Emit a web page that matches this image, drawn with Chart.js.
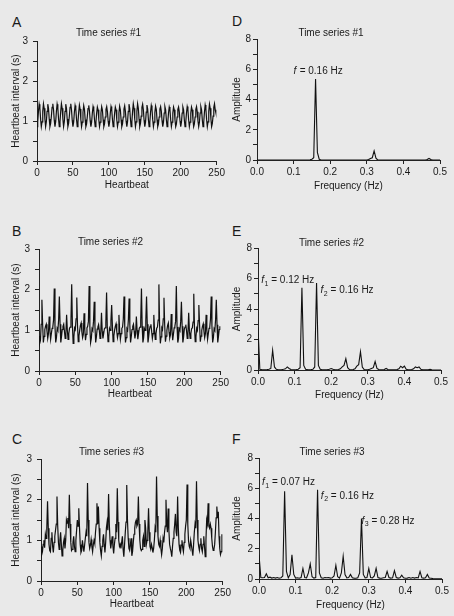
<!DOCTYPE html>
<html>
<head>
<meta charset="utf-8">
<script src="https://cdn.jsdelivr.net/npm/chart.js@4.4.1/dist/chart.umd.min.js"></script>
<style>
  html, body { margin: 0; padding: 0; background: #e9e9e9; }
  #page { position: relative; width: 454px; height: 616px; background: #e9e9e9; overflow: hidden;
          font-family: "Liberation Sans", Arial, sans-serif; color: #1a1a1a; }
  .wrap { position: absolute; }
  .letter { position: absolute; font-size: 14px; line-height: 14px; }
</style>
</head>
<body>
<div id="page">
  <div class="letter" style="left:12px;top:15px">A</div>
  <div class="letter" style="left:12px;top:224px">B</div>
  <div class="letter" style="left:12px;top:432px">C</div>
  <div class="letter" style="left:232px;top:14px">D</div>
  <div class="letter" style="left:232px;top:224px">E</div>
  <div class="letter" style="left:232px;top:432px">F</div>
  <div class="wrap" id="wrapA"><canvas id="cA"></canvas></div>
  <div class="wrap" id="wrapB"><canvas id="cB"></canvas></div>
  <div class="wrap" id="wrapC"><canvas id="cC"></canvas></div>
  <div class="wrap" id="wrapD"><canvas id="cD"></canvas></div>
  <div class="wrap" id="wrapE"><canvas id="cE"></canvas></div>
  <div class="wrap" id="wrapF"><canvas id="cF"></canvas></div>
</div>
<script>
// ---- data ----
const panelTitles = ["Time series #1", "Time series #2", "Time series #3"];
const intervalTickLabels = [0, 1, 2, 3];
const amplitudeTickLabels = [0, 2, 4, 6, 8];
const beatTickLabels = [0, 50, 100, 150, 200, 250];
const freqTickLabels = ["0.0", "0.1", "0.2", "0.3", "0.4", "0.5"];
const freqStep = 0.005; // spectrum bins

// heartbeat interval (s), one value per beat 0..249
const beatIntervals1 = [
  0.86,0.98,1.24,1.42,1.32,1.05,0.86,0.98,1.24,1.43,1.32,1.05,0.86,0.98,1.24,1.42,1.32,1.05,0.86,0.94,1.12,1.34,1.43,1.28,1.02,
  0.86,0.98,1.24,1.42,1.32,1.05,0.86,0.98,1.24,1.43,1.32,1.05,0.86,0.98,1.24,1.42,1.32,1.05,0.86,0.94,1.12,1.34,1.43,1.28,1.02,
  0.86,0.97,1.22,1.39,1.3,1.04,0.86,0.97,1.22,1.4,1.3,1.04,0.86,0.97,1.22,1.39,1.3,1.04,0.86,0.93,1.11,1.31,1.39,1.25,1.01,
  0.86,0.97,1.2,1.36,1.28,1.03,0.86,0.97,1.2,1.35,1.28,1.03,0.86,0.97,1.2,1.36,1.28,1.03,0.86,0.93,1.1,1.29,1.36,1.23,1.0,
  0.86,0.97,1.2,1.36,1.28,1.03,0.86,0.97,1.2,1.35,1.28,1.03,0.86,0.97,1.2,1.37,1.28,1.03,0.86,0.93,1.1,1.3,1.38,1.24,1.0,
  0.86,0.98,1.24,1.42,1.32,1.05,0.86,0.98,1.24,1.43,1.32,1.05,0.86,0.98,1.24,1.43,1.32,1.05,0.86,0.94,1.12,1.34,1.42,1.28,1.02,
  0.86,0.97,1.22,1.4,1.3,1.04,0.86,0.97,1.22,1.39,1.3,1.04,0.86,0.97,1.21,1.37,1.29,1.04,0.86,0.93,1.1,1.3,1.36,1.24,1.01,
  0.86,0.97,1.2,1.36,1.28,1.03,0.86,0.97,1.2,1.35,1.28,1.03,0.86,0.97,1.2,1.35,1.28,1.03,0.86,0.93,1.1,1.29,1.35,1.23,1.0,
  0.86,0.97,1.2,1.35,1.28,1.03,0.86,0.97,1.2,1.36,1.28,1.03,0.86,0.97,1.2,1.35,1.28,1.03,0.86,0.93,1.1,1.29,1.36,1.23,1.0,
  0.86,0.97,1.2,1.36,1.28,1.03,0.86,0.97,1.22,1.4,1.3,1.04,0.86,0.98,1.24,1.42,1.32,1.05,0.86,0.94,1.12,1.34,1.43,1.28,1.2
];
const beatIntervals2 = [
  0.86,0.68,0.75,1.15,1.75,1.15,0.7,0.85,1.02,1.1,1.15,0.98,0.8,0.92,1.34,1.0,0.78,0.92,1.05,1.08,1.25,
  2.03,1.1,0.7,0.82,1.05,1.0,1.25,1.83,1.15,0.7,0.85,1.02,1.1,1.15,0.98,0.8,0.92,1.38,1.0,0.78,0.92,1.05,1.08,1.25,
  2.13,1.12,0.68,0.84,1.06,1.02,1.28,1.81,1.12,0.72,0.86,1.0,1.12,1.18,0.96,0.82,0.9,1.42,1.02,0.76,0.9,1.06,1.1,1.22,
  2.09,1.08,0.7,0.8,1.04,1.0,1.22,1.7,1.1,0.7,0.84,1.03,1.08,1.14,1.0,0.8,0.94,1.43,0.98,0.8,0.92,1.04,1.06,1.2,
  1.93,1.06,0.72,0.84,1.05,1.0,1.24,1.62,1.12,0.72,0.86,1.0,1.1,1.16,0.98,0.82,0.92,1.38,1.0,0.78,0.92,1.05,1.08,1.28,
  1.83,1.1,0.7,0.82,1.04,1.0,1.26,1.78,1.14,0.7,0.85,1.02,1.1,1.15,0.98,0.8,0.92,1.34,1.0,0.78,0.92,1.05,1.08,1.25,
  2.03,1.1,0.7,0.82,1.05,1.0,1.25,1.83,1.15,0.7,0.85,1.02,1.1,1.15,0.98,0.8,0.92,1.38,1.0,0.78,0.92,1.05,1.08,1.25,
  2.13,1.12,0.68,0.84,1.06,1.02,1.28,1.8,1.12,0.72,0.86,1.0,1.12,1.18,0.96,0.82,0.9,1.4,1.02,0.76,0.9,1.06,1.1,1.22,
  2.09,1.08,0.7,0.8,1.04,1.0,1.22,1.7,1.1,0.7,0.84,1.03,1.08,1.14,1.0,0.8,0.94,1.43,0.98,0.8,0.92,1.04,1.06,1.2,
  1.9,1.06,0.72,0.84,1.05,1.0,1.24,1.62,1.12,0.72,0.86,1.0,1.1,1.16,0.98,0.82,0.92,1.38,1.0,0.78,0.92,1.05,1.08,1.28,
  1.83,1.1,0.7,0.82,1.04,1.0,1.26,1.75,1.14,0.7,0.85,1.02,1.1
];
const beatIntervals3 = [
  0.85,0.65,0.72,0.9,1.0,0.82,1.15,1.05,1.3,
  1.96,1.3,0.9,0.75,0.72,1.05,1.2,0.85,0.7,0.95,1.1,1.25,1.4,
  2.08,1.35,0.95,0.78,1.0,1.2,0.9,0.62,0.75,0.95,1.05,0.8,1.0,1.5,1.42,1.55,1.3,
  2.12,1.4,0.95,0.75,0.78,0.95,1.1,0.85,0.72,1.0,1.25,1.5,1.35,
  1.79,1.3,0.9,0.7,0.75,1.0,0.85,0.72,0.88,1.05,1.2,1.1,
  2.41,1.5,0.95,0.8,0.88,1.02,0.85,0.72,0.9,1.0,0.92,1.2,1.4,
  1.91,1.4,1.83,1.3,0.95,0.75,0.62,0.85,1.0,1.15,0.9,0.7,0.95,1.3,1.45,1.25,
  2.14,1.4,1.0,0.8,0.95,1.1,0.85,0.68,0.9,1.05,1.4,1.2,
  2.28,1.45,1.0,0.85,0.9,0.8,0.95,1.1,0.78,0.6,0.9,1.2,1.45,
  2.36,1.5,1.05,0.8,0.75,0.9,1.05,0.62,0.72,0.95,1.15,1.3,1.45,1.5,1.35,1.4,
  2.08,1.4,1.0,0.8,0.75,0.78,1.0,1.1,0.85,1.5,1.3,0.9,1.0,1.2,
  1.79,1.2,0.85,0.78,0.9,0.82,0.7,0.8,1.0,1.3,1.2,
  2.57,1.6,1.1,0.9,0.85,1.0,0.8,0.65,0.8,1.05,0.95,1.2,1.35,
  2.0,1.4,1.2,1.78,1.25,0.9,0.8,0.72,0.6,0.85,1.05,1.2,1.4,1.65,1.2,1.1,
  2.08,1.3,0.9,0.75,0.7,0.88,1.0,0.82,0.72,0.95,1.15,1.35,1.5,
  2.37,1.4,1.0,0.85,0.8,1.0,0.88,0.75,0.62,0.9,1.2,1.4,1.3,
  2.45,1.5,1.0,0.85,0.75,0.9,1.05,0.8,0.72,0.9,1.1,0.85,0.6,1.0,1.5,1.4,
  1.91,1.35,1.3,1.4,1.3,1.05,0.85,0.75,0.78,0.9,1.2,1.55,
  1.83,1.55,1.7,1.1,0.8,0.65,0.72,1.15
];

// spectral amplitude, bins 0, 0.005, ... 0.5 Hz
const spectrum1 = [
  0,0,0,0,0,0,0,0,0,0,
  0,0,0,0,0,0,0,0,0,0,
  0,0,0,0,0,0,0,0,0,0.02,
  0.05,0.15,5.35,0.5,0.05,0,0,0,0,0,
  0,0,0,0,0,0,0,0,0,0,
  0,0,0,0,0,0,0,0,0,0,
  0,0.03,0.1,0.15,0.6,0.12,0,0,0,0,
  0,0,0,0,0,0,0,0,0,0,
  0,0,0,0,0,0,0,0,0,0,
  0,0,0,0.03,0.1,0.03,0,0,0,0,
  0
];
const spectrum2 = [
  2.8,0.05,0.03,0.02,0.02,0.03,0.05,0.1,1.3,0.2,
  0.05,0.02,0.02,0.03,0.05,0.08,0.2,0.1,0.03,0.02,
  0.02,0.03,0.05,0.15,5.4,0.3,0.05,0.03,0.02,0.03,
  0.05,0.2,5.7,0.3,0.05,0.02,0.02,0.02,0.03,0.05,
  0.1,0.05,0.02,0.02,0.03,0.08,0.2,0.3,0.75,0.15,
  0.03,0.02,0.03,0.08,0.25,0.35,1.2,0.2,0.03,0.02,
  0.02,0.05,0.1,0.15,0.55,0.1,0.03,0.02,0.02,0.03,
  0.1,0.03,0.02,0.02,0.02,0.02,0.03,0.08,0.25,0.15,
  0.25,0.05,0.02,0.02,0.03,0.08,0.2,0.15,0.2,0.05,
  0.02,0.02,0.02,0.02,0.05,0.02,0,0,0,0,
  0
];
const spectrum3 = [
  1.6,0.1,0.08,0.1,0.35,0.08,0.12,0.06,0.1,0.06,
  0.1,0.05,0.08,0.2,5.8,0.5,0.08,0.3,1.6,0.3,
  0.06,0.08,0.05,0.1,0.7,0.1,0.08,0.4,1.0,0.15,
  0.06,0.1,5.9,0.4,0.08,0.05,0.1,0.08,0.1,0.06,
  0.08,0.2,0.9,0.15,0.06,0.4,1.5,0.3,0.08,0.1,
  0.3,0.08,0.06,0.05,0.08,0.4,4.0,0.3,0.08,0.1,
  0.7,0.1,0.08,0.2,0.7,0.1,0.06,0.05,0.08,0.1,
  0.5,0.1,0.06,0.08,0.55,0.1,0.06,0.08,0.25,0.08,
  0.05,0.06,0.1,0.05,0.1,0.06,0.1,0.08,0.5,0.08,
  0.06,0.08,0.3,0.06,0.05,0.03,0.02,0.02,0.02,0.02,
  0.02
];

const peakText1 = ["0.16 Hz"];
const peakText2 = ["0.12 Hz", "0.16 Hz"];
const peakText3 = ["0.07 Hz", "0.16 Hz", "0.28 Hz"];

// ---- drawing ----
const FONT = '"Liberation Sans", Arial, sans-serif';
const INK = "#1a1a1a";
Chart.defaults.font.family = FONT;
Chart.defaults.font.size = 10;
Chart.defaults.color = INK;

// writes "f1 = 0.12 Hz" style labels next to the peaks
const peakLabels = {
  id: "peakLabels",
  afterDatasetsDraw(chart, args, opts) {
    const items = opts.items || [];
    const ctx = chart.ctx;
    const xs = chart.scales.x, ys = chart.scales.y;
    ctx.save();
    ctx.fillStyle = INK;
    ctx.textBaseline = "middle";
    ctx.textAlign = "left";
    items.forEach(it => {
      let px = xs.getPixelForValue(it.f);
      const py = ys.getPixelForValue(it.a);
      ctx.font = "italic 10px " + FONT;
      ctx.fillText("f", px, py);
      px += ctx.measureText("f").width + 0.5;
      if (it.sub) {
        ctx.font = "7px " + FONT;
        ctx.fillText(it.sub, px, py + 3);
        px += ctx.measureText(it.sub).width;
      }
      ctx.font = "10px " + FONT;
      ctx.fillText(" = " + it.text, px, py);
    });
    ctx.restore();
  }
};

const panels = [
  { id: "A", kind: "time", values: beatIntervals1, title: panelTitles[0],
    box: { x: 0, y: 20, w: 227, h: 180 }, area: { l: 37, r: 217, t: 41, b: 161 },
    titleY: 33, xTitleY: 185, yTitleX: 16, labels: [] },
  { id: "B", kind: "time", values: beatIntervals2, title: panelTitles[1],
    box: { x: 0, y: 228, w: 231, h: 178 }, area: { l: 39, r: 221, t: 249, b: 371 },
    titleY: 242, xTitleY: 394, yTitleX: 16, labels: [] },
  { id: "C", kind: "time", values: beatIntervals3, title: panelTitles[2],
    box: { x: 0, y: 438, w: 233, h: 178 }, area: { l: 41, r: 223, t: 459, b: 581 },
    titleY: 452, xTitleY: 604, yTitleX: 16, labels: [] },
  { id: "D", kind: "freq", values: spectrum1, title: panelTitles[0],
    box: { x: 222, y: 20, w: 232, h: 180 }, area: { l: 257, r: 440, t: 39, b: 160 },
    titleY: 33, xTitleY: 186, yTitleX: 237,
    labels: [{ sub: "", text: peakText1[0], f: 0.10, a: 5.85 }] },
  { id: "E", kind: "freq", values: spectrum2, title: panelTitles[1],
    box: { x: 222, y: 228, w: 232, h: 178 }, area: { l: 258, r: 441, t: 248, b: 370 },
    titleY: 243, xTitleY: 395, yTitleX: 237,
    labels: [{ sub: "1", text: peakText2[0], f: 0.009, a: 5.86 },
             { sub: "2", text: peakText2[1], f: 0.171, a: 5.2 }] },
  { id: "F", kind: "freq", values: spectrum3, title: panelTitles[2],
    box: { x: 222, y: 438, w: 232, h: 178 }, area: { l: 259, r: 442, t: 458, b: 579 },
    titleY: 452, xTitleY: 605, yTitleX: 237,
    labels: [{ sub: "1", text: peakText3[0], f: 0.008, a: 6.37 },
             { sub: "2", text: peakText3[1], f: 0.169, a: 5.5 },
             { sub: "3", text: peakText3[2], f: 0.28, a: 3.84 }] }
];

function makeChart(p) {
  const wrap = document.getElementById("wrap" + p.id);
  wrap.style.left = p.box.x + "px";
  wrap.style.top = p.box.y + "px";
  wrap.style.width = p.box.w + "px";
  wrap.style.height = p.box.h + "px";

  const isTime = p.kind === "time";
  const points = p.values.map((v, i) => ({ x: isTime ? i : i * freqStep, y: v }));
  const yAxisW = p.area.l - p.box.x;
  const xAxisH = p.box.y + p.box.h - p.area.b;

  new Chart(document.getElementById("c" + p.id), {
    type: "line",
    data: {
      datasets: [{
        data: points,
        borderColor: "#111",
        borderWidth: isTime ? 1.2 : 1.1,
        pointRadius: 0,
        tension: 0,
        fill: false
      }]
    },
    options: {
      responsive: true,
      maintainAspectRatio: false,
      animation: false,
      devicePixelRatio: 1,
      layout: { padding: { left: 0, top: 0, bottom: 0, right: p.box.x + p.box.w - p.area.r } },
      plugins: {
        legend: { display: false },
        tooltip: { enabled: false },
        title: {
          display: true,
          text: p.title,
          color: INK,
          font: { size: 10, weight: "normal", lineHeight: 1 },
          padding: { top: p.titleY - p.box.y - 5, bottom: p.area.t - p.titleY - 5 }
        },
        peakLabels: { items: p.labels }
      },
      scales: {
        x: {
          type: "linear",
          min: 0,
          max: isTime ? 250 : 0.5,
          grid: { drawOnChartArea: false, drawTicks: true, tickLength: 4, color: "#222" },
          border: { display: true, color: "#222", width: 1 },
          ticks: {
            stepSize: isTime ? 50 : 0.1,
            autoSkip: false,
            maxRotation: 0,
            padding: 2,
            color: INK,
            font: { size: 10 },
            callback: v => isTime
              ? (beatTickLabels.includes(Math.round(v)) ? String(Math.round(v)) : "")
              : freqTickLabels[Math.round(v * 10)]
          },
          title: {
            display: true,
            text: isTime ? "Heartbeat" : "Frequency (Hz)",
            color: INK,
            font: { size: 10, lineHeight: 1.2 },
            padding: { top: 0, bottom: p.box.y + p.box.h - p.xTitleY - 6 }
          },
          afterFit: s => { s.height = xAxisH; }
        },
        y: {
          type: "linear",
          min: 0,
          max: isTime ? 3 : 8,
          grid: { drawOnChartArea: false, drawTicks: true, tickLength: 4, color: "#222" },
          border: { display: true, color: "#222", width: 1 },
          ticks: {
            stepSize: isTime ? 0.5 : 1,
            autoSkip: false,
            padding: isTime ? 5 : 2,
            color: INK,
            font: { size: 10 },
            callback: v => {
              const list = isTime ? intervalTickLabels : amplitudeTickLabels;
              return list.includes(v) ? String(v) : "";
            }
          },
          title: {
            display: true,
            text: isTime ? "Heartbeat interval (s)" : "Amplitude",
            color: INK,
            font: { size: 10, lineHeight: 1.2 },
            padding: { top: p.yTitleX - p.box.x - 6, bottom: 0 }
          },
          afterFit: s => { s.width = yAxisW; }
        }
      }
    },
    plugins: [peakLabels]
  });
}

panels.forEach(makeChart);
</script>
</body>
</html>
